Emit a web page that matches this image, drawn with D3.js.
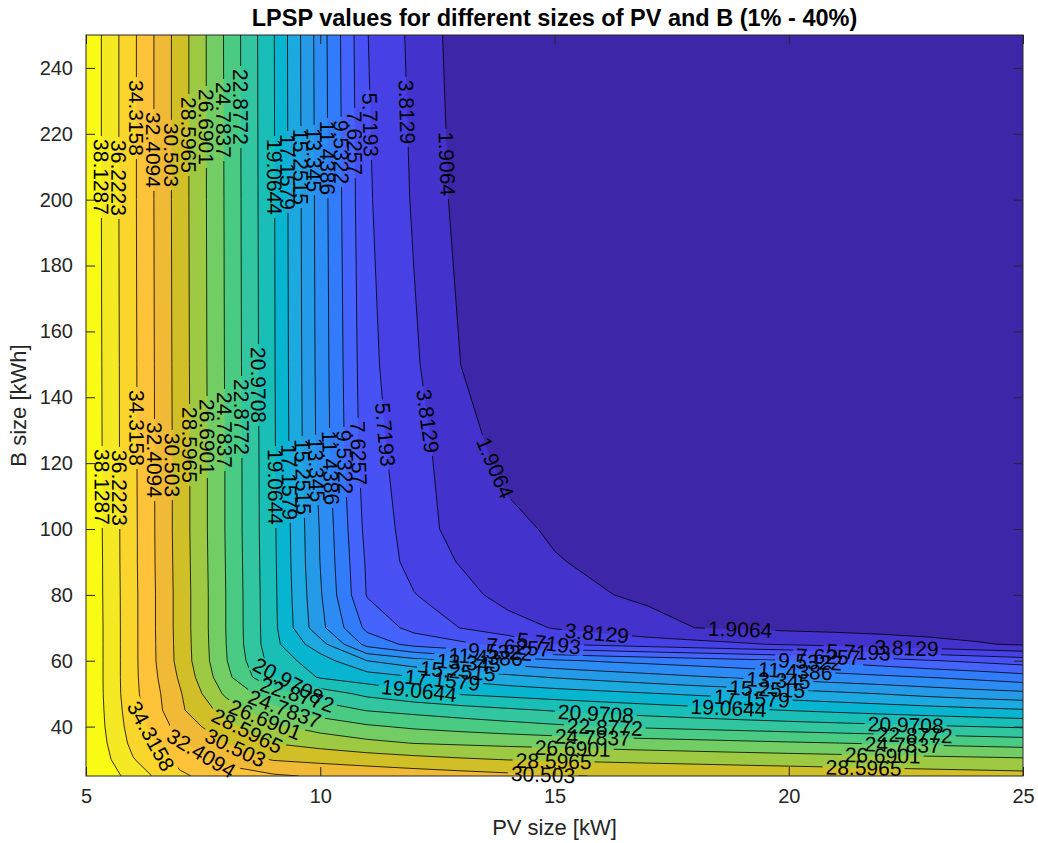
<!DOCTYPE html>
<html>
<head>
<meta charset="utf-8">
<script src="https://cdn.jsdelivr.net/npm/d3@7"></script>
<style>
  body { margin: 0; background: #fff; }
  text { font-family: "Liberation Sans", Arial, Helvetica, sans-serif; }
</style>
</head>
<body>
<div id="chart"></div>
<script>
// grid of the LPSP table: PV size [kW] (columns) and battery size [kWh] (rows)
const pvSizes = [5, 6, 7, 8, 9, 10, 11, 12, 13, 14, 15, 16, 17, 18, 19, 20, 21, 22, 23, 24, 25];
const bSizes = [25, 30, 35, 40, 45, 50, 55, 60, 65, 70, 80, 90, 100, 125, 150, 200, 250];

// LPSP [%], one row per battery size, PV 5 -> 25
const lpspB25 = [40.4, 37.36, 34.56, 33.54, 32.67, 32.19, 31.88, 31.58, 31.27, 30.96, 30.65, 30.44, 30.31, 30.19, 30.06, 29.93, 29.81, 29.68, 29.55, 29.43, 29.3];
const lpspB30 = [40.2, 36.34, 33.9, 31.71, 30.38, 29.99, 29.6, 29.21, 28.83, 28.54, 28.4, 28.26, 28.12, 27.98, 27.84, 27.7, 27.56, 27.42, 27.28, 27.14, 27.0];
const lpspB35 = [40.1, 35.72, 32.7, 30.4, 28.55, 27.86, 27.17, 26.63, 26.42, 26.22, 26.02, 25.81, 25.61, 25.41, 25.2, 25.0, 24.8, 24.6, 24.4, 24.2, 24.0];
const lpspB40 = [40.0, 35.37, 31.68, 29.16, 27.03, 25.94, 25.05, 24.48, 24.06, 23.64, 23.22, 22.83, 22.6, 22.37, 22.13, 21.9, 21.67, 21.43, 21.2, 20.97, 20.74];
const lpspB45 = [40.0, 35.11, 30.85, 27.78, 25.26, 23.83, 22.78, 22.28, 21.77, 21.27, 20.82, 20.46, 20.09, 19.72, 19.35, 18.99, 18.66, 18.33, 17.99, 17.66, 17.33];
const lpspB50 = [40.0, 34.9, 30.71, 26.27, 23.69, 21.91, 20.52, 19.61, 18.9, 18.49, 18.09, 17.69, 17.28, 16.87, 16.46, 16.04, 15.63, 15.19, 14.65, 14.2, 13.85];
const lpspB55 = [40.0, 34.85, 30.26, 25.28, 20.97, 18.89, 18.07, 17.24, 16.51, 15.79, 15.12, 14.6, 14.08, 13.56, 13.1, 12.67, 12.25, 11.83, 11.4, 10.9, 10.3];
const lpspB60 = [40.0, 34.85, 29.9, 24.85, 20.1, 18.04, 15.25, 14.06, 13.09, 12.43, 11.77, 11.24, 10.84, 10.45, 10.05, 9.65, 9.07, 8.42, 7.76, 7.23, 6.7];
const lpspB65 = [40.0, 34.85, 29.85, 24.75, 19.6, 16.0, 10.8, 8.93, 8.06, 6.99, 5.72, 5.3, 4.87, 4.45, 4.02, 3.62, 3.23, 2.84, 2.45, 2.07, 1.7];
const lpspB70 = [40.0, 34.85, 29.8, 24.7, 19.55, 13.9, 9.04, 7.03, 5.67, 4.64, 3.69, 3.05, 2.4, 1.9, 1.7, 1.5, 1.4, 1.3, 1.2, 1.1, 1.0];
const lpspB80 = [39.95, 34.85, 29.8, 24.7, 19.5, 13.55, 7.5, 5.8, 4.5, 3.1, 2.55, 2.0, 1.65, 1.5, 1.35, 1.2, 1.1, 1.0, 0.9, 0.8, 0.7];
const lpspB90 = [39.95, 34.8, 29.75, 24.65, 19.45, 13.3, 7.33, 5.03, 3.67, 2.9, 2.0, 1.65, 1.45, 1.25, 1.1, 0.95, 0.85, 0.75, 0.7, 0.6, 0.55];
const lpspB100 = [39.9, 34.8, 29.7, 24.6, 19.4, 13.2, 7.0, 4.87, 2.94, 2.25, 1.72, 1.4, 1.15, 0.95, 0.8, 0.7, 0.6, 0.5, 0.45, 0.4, 0.4];
const lpspB125 = [39.9, 34.75, 29.7, 24.6, 19.35, 12.7, 6.5, 4.6, 2.5, 1.4, 1.2, 0.95, 0.8, 0.65, 0.55, 0.45, 0.4, 0.35, 0.3, 0.25, 0.25];
const lpspB150 = [39.85, 34.75, 29.65, 24.55, 19.3, 12.6, 6.3, 4.1, 1.9, 1.3, 1.0, 0.8, 0.65, 0.5, 0.4, 0.35, 0.3, 0.25, 0.2, 0.2, 0.15];
const lpspB200 = [39.8, 34.7, 29.6, 24.5, 19.25, 12.5, 6.0, 3.6, 1.3, 0.9, 0.7, 0.55, 0.45, 0.35, 0.3, 0.25, 0.2, 0.2, 0.15, 0.15, 0.1];
const lpspB250 = [39.8, 34.7, 29.6, 24.45, 19.2, 12.4, 5.78, 3.33, 1.0, 0.7, 0.5, 0.4, 0.3, 0.25, 0.2, 0.2, 0.15, 0.1, 0.1, 0.1, 0.1];

// contour levels shown on the chart
const levels = [1.9064, 3.8129, 5.7193, 7.6257, 9.5322, 11.4386, 13.345, 15.2515, 17.1579, 19.0644,
  20.9708, 22.8772, 24.7837, 26.6901, 28.5965, 30.503, 32.4094, 34.3158, 36.2223, 38.1287];

const xTicks = [5, 10, 15, 20, 25];
const yTicks = [40, 60, 80, 100, 120, 140, 160, 180, 200, 220, 240];

const titleText = "LPSP values for different sizes of PV and B (1% - 40%)";
const xLabel = "PV size [kW]";
const yLabel = "B size [kWh]";

// matlab parula colormap (64 entries)
const parula = [
  [0.2422,0.1504,0.6603],[0.2504,0.1650,0.7076],[0.2578,0.1818,0.7511],[0.2647,0.1978,0.7952],
  [0.2706,0.2147,0.8364],[0.2751,0.2342,0.8710],[0.2783,0.2559,0.8991],[0.2803,0.2782,0.9221],
  [0.2813,0.3006,0.9414],[0.2810,0.3228,0.9579],[0.2795,0.3447,0.9717],[0.2760,0.3667,0.9829],
  [0.2699,0.3892,0.9906],[0.2602,0.4123,0.9952],[0.2440,0.4358,0.9988],[0.2206,0.4603,0.9973],
  [0.1963,0.4847,0.9892],[0.1834,0.5074,0.9798],[0.1786,0.5289,0.9682],[0.1764,0.5499,0.9520],
  [0.1687,0.5703,0.9359],[0.1540,0.5902,0.9218],[0.1460,0.6091,0.9079],[0.1380,0.6276,0.8973],
  [0.1248,0.6459,0.8883],[0.1113,0.6635,0.8763],[0.0952,0.6798,0.8598],[0.0689,0.6948,0.8394],
  [0.0297,0.7082,0.8163],[0.0036,0.7203,0.7917],[0.0067,0.7312,0.7660],[0.0433,0.7411,0.7394],
  [0.0964,0.7500,0.7120],[0.1408,0.7584,0.6842],[0.1717,0.7670,0.6554],[0.1938,0.7758,0.6251],
  [0.2161,0.7843,0.5923],[0.2470,0.7918,0.5567],[0.2906,0.7973,0.5188],[0.3406,0.8008,0.4789],
  [0.3909,0.8029,0.4354],[0.4456,0.8024,0.3909],[0.5044,0.7993,0.3480],[0.5616,0.7942,0.3045],
  [0.6174,0.7876,0.2612],[0.6720,0.7793,0.2227],[0.7242,0.7698,0.1910],[0.7738,0.7598,0.1646],
  [0.8203,0.7498,0.1535],[0.8634,0.7406,0.1596],[0.9035,0.7330,0.1774],[0.9393,0.7288,0.2100],
  [0.9728,0.7298,0.2394],[0.9956,0.7434,0.2371],[0.9970,0.7659,0.2199],[0.9952,0.7893,0.2028],
  [0.9892,0.8136,0.1885],[0.9786,0.8386,0.1766],[0.9676,0.8639,0.1643],[0.9610,0.8890,0.1537],
  [0.9597,0.9135,0.1423],[0.9628,0.9373,0.1265],[0.9691,0.9606,0.1064],[0.9769,0.9839,0.0805]
];
// band k (values above level k) -> colormap entry
function bandColor(k) {
  const c = parula[Math.min(63, Math.floor(k * 64 / levels.length))];
  return d3.rgb(c[0] * 255, c[1] * 255, c[2] * 255).formatHex();
}

const W = 1038, H = 843;
const margin = { top: 35, right: 15, bottom: 67, left: 86 };
const width = W - margin.left - margin.right;
const height = H - margin.top - margin.bottom;

const x = d3.scaleLinear().domain([pvSizes[0], pvSizes[pvSizes.length - 1]]).range([0, width]);
const y = d3.scaleLinear().domain([bSizes[0], bSizes[bSizes.length - 1]]).range([height, 0]);

const svg = d3.select("#chart").append("svg").attr("width", W).attr("height", H);
const defs = svg.append("defs");
defs.append("clipPath").attr("id", "plotClip")
  .append("rect").attr("width", width).attr("height", height);
const mask = defs.append("mask").attr("id", "labelMask").attr("maskUnits", "userSpaceOnUse")
  .attr("x", -5).attr("y", -5).attr("width", width + 10).attr("height", height + 10);
mask.append("rect").attr("x", -5).attr("y", -5).attr("width", width + 10).attr("height", height + 10)
  .attr("fill", "#fff");

const g = svg.append("g").attr("transform", "translate(" + margin.left + "," + margin.top + ")");

//contour grid: values sit on cell centres, map grid coords back to data
const n = pvSizes.length, m = bSizes.length;
const rows = [lpspB25, lpspB30, lpspB35, lpspB40, lpspB45, lpspB50, lpspB55, lpspB60, lpspB65,
  lpspB70, lpspB80, lpspB90, lpspB100, lpspB125, lpspB150, lpspB200, lpspB250];
const values = [];
rows.forEach(r => r.forEach(v => values.push(v)));

const colToPv = d3.scaleLinear().domain(d3.range(n).map(i => i + 0.5)).range(pvSizes).clamp(true);
const rowToB = d3.scaleLinear().domain(d3.range(m).map(j => j + 0.5)).range(bSizes).clamp(true);

const contours = d3.contours().size([n, m]).thresholds(levels)(values);

const proj = d3.geoTransform({
  point: function (gx, gy) {
    this.stream.point(x(colToPv(gx)), y(rowToB(gy)));
  }
});
const path = d3.geoPath(proj);

const plot = g.append("g").attr("clip-path", "url(#plotClip)");
plot.append("rect").attr("width", width).attr("height", height).attr("fill", bandColor(0));
plot.selectAll("path.band")
  .data(contours)
  .join("path")
  .attr("class", "band")
  .attr("d", path)
  .attr("fill", (d, i) => bandColor(i + 1));

//turn filled rings into contour lines, dropping the parts that run on the frame
const pv0 = pvSizes[0], pv1 = pvSizes[n - 1], b0 = bSizes[0], b1 = bSizes[m - 1];
function onFrame(a, b) {
  return (a[0] === b[0] && (a[0] === pv0 || a[0] === pv1)) ||
    (a[1] === b[1] && (a[1] === b0 || a[1] === b1));
}
function contourLines(mp) {
  const out = [];
  mp.coordinates.forEach(poly => poly.forEach(ring => {
    const pts = ring.map(p => [colToPv(p[0]), rowToB(p[1])]);
    const segs = pts.length - 1;
    const skip = d3.range(segs).map(i => onFrame(pts[i], pts[i + 1]));
    const s0 = skip.indexOf(true);
    if (s0 < 0) { out.push(pts); return; }
    let cur = null;
    for (let t = 1; t <= segs; t++) {
      const i = (s0 + t) % segs;
      if (skip[i]) {
        if (cur) { out.push(cur); cur = null; }
      } else {
        if (!cur) cur = [pts[i]];
        cur.push(pts[i + 1]);
      }
    }
    if (cur) out.push(cur);
  }));
  return out.map(line => {
    let px = line.map(p => [x(p[0]), y(p[1])]);
    if (px[0][1] > px[px.length - 1][1]) px = px.reverse();
    return px;
  });
}

const allLines = [];
contours.forEach((c, k) => {
  contourLines(c).forEach(pts => allLines.push({ k: k, level: levels[k], pts: pts }));
});

plot.append("g")
  .attr("mask", "url(#labelMask)")
  .selectAll("path")
  .data(allLines)
  .join("path")
  .attr("d", d => d3.line()(d.pts))
  .attr("fill", "none")
  .attr("stroke", "#000")
  .attr("stroke-width", 0.8);

//inline labels along each line, matlab style
//distance of the first label from the top of each line (px), then every labelSpacing
const labelSize = 21;
const labelStart = [129, 77, 90, 108, 117, 123, 125, 132, 137, 142, 350, 72, 85, 92, 100, 120, 115, 83, 143, 142];
const labelSpacing = 310;
const labelG = g.append("g");
const labelWidth = {};
levels.forEach(L => {
  const t = labelG.append("text").attr("font-size", labelSize).text(String(L));
  labelWidth[L] = t.node().getComputedTextLength();
  t.remove();
});

function pointAt(pts, cum, s) {
  s = Math.max(0, Math.min(cum[cum.length - 1], s));
  let i = d3.bisectRight(cum, s) - 1;
  if (i >= pts.length - 1) i = pts.length - 2;
  const segLen = cum[i + 1] - cum[i] || 1;
  const f = (s - cum[i]) / segLen;
  return [pts[i][0] + f * (pts[i + 1][0] - pts[i][0]), pts[i][1] + f * (pts[i + 1][1] - pts[i][1])];
}

const labels = [];
allLines.forEach(line => {
  const pts = line.pts;
  const cum = [0];
  for (let i = 1; i < pts.length; i++) {
    cum.push(cum[i - 1] + Math.hypot(pts[i][0] - pts[i - 1][0], pts[i][1] - pts[i - 1][1]));
  }
  const total = cum[cum.length - 1];
  const lw = labelWidth[line.level];
  for (let s = labelStart[line.k]; s + lw / 2 + 10 <= total; s += labelSpacing) {
    const a = pointAt(pts, cum, s - lw / 2);
    const b = pointAt(pts, cum, s + lw / 2);
    const c = pointAt(pts, cum, s);
    let ang = Math.atan2(b[1] - a[1], b[0] - a[0]) * 180 / Math.PI;
    if (ang > 90) ang -= 180;
    if (ang <= -90) ang += 180;
    labels.push({ text: String(line.level), x: c[0], y: c[1], angle: ang, w: lw });
  }
});

mask.selectAll("rect.gap")
  .data(labels)
  .join("rect")
  .attr("class", "gap")
  .attr("x", d => -d.w / 2 - 3)
  .attr("y", -labelSize * 0.42)
  .attr("width", d => d.w + 6)
  .attr("height", labelSize * 0.84)
  .attr("fill", "#000")
  .attr("transform", d => "translate(" + d.x + "," + d.y + ") rotate(" + d.angle + ")");

labelG.selectAll("text")
  .data(labels)
  .join("text")
  .attr("font-size", labelSize)
  .attr("text-anchor", "middle")
  .attr("dy", "0.36em")
  .attr("fill", "#000")
  .attr("transform", d => "translate(" + d.x + "," + d.y + ") rotate(" + d.angle + ")")
  .text(d => d.text);

//axes, ticks point inward on all four sides
const axisColor = "#262626";
const tickLen = 9;
const xAxis = g.append("g").attr("transform", "translate(0," + height + ")")
  .call(d3.axisBottom(x).tickValues(xTicks).tickSizeInner(-tickLen).tickSizeOuter(0).tickPadding(13));
const yAxis = g.append("g")
  .call(d3.axisLeft(y).tickValues(yTicks).tickSizeInner(-tickLen).tickSizeOuter(0).tickPadding(13));
const xTop = g.append("g")
  .call(d3.axisTop(x).tickValues(xTicks).tickSizeInner(-tickLen).tickSizeOuter(0).tickFormat(""));
const yRight = g.append("g").attr("transform", "translate(" + width + ",0)")
  .call(d3.axisRight(y).tickValues(yTicks).tickSizeInner(-tickLen).tickSizeOuter(0).tickFormat(""));
[xAxis, yAxis, xTop, yRight].forEach(a => {
  a.select(".domain").remove();
  a.selectAll("line").attr("stroke", axisColor);
  a.selectAll("text").attr("fill", axisColor).attr("font-size", 20)
    .attr("font-family", "'Liberation Sans', Arial, Helvetica, sans-serif");
});
g.append("rect").attr("width", width).attr("height", height)
  .attr("fill", "none").attr("stroke", axisColor).attr("stroke-width", 1);

g.append("text")
  .attr("x", width / 2)
  .attr("y", height + 59)
  .attr("text-anchor", "middle")
  .attr("font-size", 22)
  .attr("fill", axisColor)
  .text(xLabel);

g.append("text")
  .attr("transform", "rotate(-90)")
  .attr("x", -height / 2)
  .attr("y", -60)
  .attr("text-anchor", "middle")
  .attr("font-size", 22)
  .attr("fill", axisColor)
  .text(yLabel);

g.append("text")
  .attr("x", width / 2)
  .attr("y", -9)
  .attr("text-anchor", "middle")
  .attr("font-size", 23.5)
  .attr("font-weight", "bold")
  .attr("fill", "#000")
  .text(titleText);
</script>
</body>
</html>
